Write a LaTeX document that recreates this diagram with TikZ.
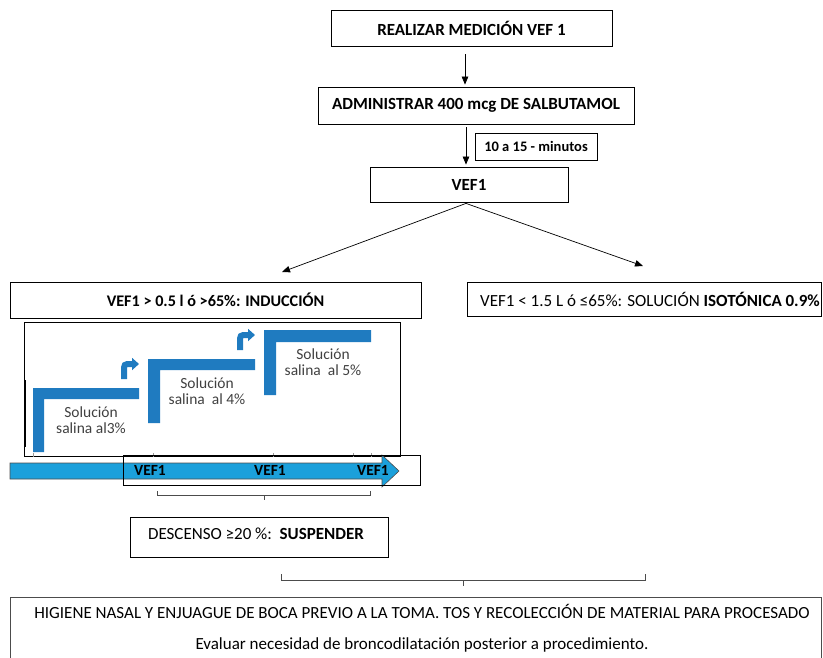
\documentclass[tikz,border=0pt]{standalone}
\usepackage{fontspec}
\setmainfont{Carlito}
\usetikzlibrary{arrows.meta,calc}
\definecolor{stepblue}{HTML}{1F7BC0}
\definecolor{arrowblue}{HTML}{1BA0DB}
\definecolor{labgray}{HTML}{404040}
\begin{document}
\begin{tikzpicture}[x=1pt,y=-1pt,
  box/.style={draw, line width=0.8pt, inner sep=0pt, font=\fontsize{17}{19}\selectfont},
  bbox/.style={box, font=\fontsize{17}{19}\selectfont\bfseries},
  arr/.style={line width=0.7pt, -{Triangle[length=8pt,width=6.5pt]}},
  steplab/.style={text=labgray, align=center, font=\fontsize{15.5}{16.5}\selectfont, inner sep=0pt},
  veflab/.style={font=\fontsize{15.5}{17}\selectfont\bfseries, inner sep=0pt},
  brace/.style={draw=black!70, line width=0.6pt},
  tick/.style={draw=black!40, line width=0.5pt},
  plain/.style={font=\fontsize{17}{19}\selectfont, inner sep=0pt}]
\useasboundingbox (0,0) rectangle (823,657);

% main boxes
\node[bbox, minimum width=281pt, minimum height=36pt] (b1) at (471.5,28) {REALIZAR MEDICIÓN VEF 1};
\node[bbox, minimum width=316pt, minimum height=37pt] (b2) at (476,105.5) {ADMINISTRAR 400 mcg DE SALBUTAMOL};
\node[box, minimum width=122pt, minimum height=27pt, font=\fontsize{14.5}{16}\selectfont\bfseries] (lab) at (536,146.5) {10 a 15 - minutos};
\node[bbox, minimum width=198pt, minimum height=35pt] (b3) at (469,184.5) {VEF1};
\node[box, minimum width=411pt, minimum height=36pt, font=\fontsize{16.2}{18}\selectfont\bfseries] (left) at (215.5,300) {VEF1 > 0.5 l ó >65\%: INDUCCIÓN};
\node[box, minimum width=354pt, minimum height=34pt] (right) at (644.5,299) {};
\node[plain] (rtext) at (650,299) {VEF1 < 1.5 L ó ≤65\%: SOLUCIÓN \textbf{ISOTÓNICA 0.9\%}};
\node[box, minimum width=258pt, minimum height=40pt] (desc) at (259,537) {};
\node[plain] (dtext) at (256,534) {DESCENSO ≥20 \%:\ \ \textbf{SUSPENDER}};

% connectors
\draw[arr] ([xshift=-6.5pt,yshift=-8pt]b1.south) -- ([xshift=-11pt,yshift=2pt]b2.north);
\draw[arr] ([xshift=-10pt,yshift=-3pt]b2.south) -- ([xshift=-3pt,yshift=2pt]b3.north);
\coordinate (eL) at (282,272);
\coordinate (eR) at (643,266);
\draw[arr] ([xshift=-3pt,yshift=-1pt]b3.south) -- (eL);
\draw[arr] ([xshift=-3pt,yshift=-1pt]b3.south) -- (eR);

% picture of saline steps
\draw[line width=0.6pt] (24,322) rectangle (400,456);
\draw[line width=1.2pt] (25,380) -- (25,447);
\fill[stepblue] (33,452) -- (33,388) -- (139,388) -- (139,399) -- (44,399) -- (44,452) -- cycle;
\fill[stepblue] (148,423) -- (148,359) -- (255,359) -- (255,370) -- (160,370) -- (160,423) -- cycle;
\fill[stepblue] (264,395) -- (264,330) -- (371,330) -- (371,342) -- (276,342) -- (276,395) -- cycle;
\draw[stepblue, line width=6pt, -{Triangle[length=7pt,width=12pt]}] (124,379) -- (124,372) .. controls (124,364) .. (131,364) -- (139,364);
\draw[stepblue, line width=6pt, -{Triangle[length=7pt,width=12pt]}] (240,350) -- (240,343) .. controls (240,335) .. (247,335) -- (255,335);
\node[steplab] (s1) at (91,420) {Solución\\salina al3\%};
\node[steplab] (s2) at (207,391) {Solución\\salina\ \ al 4\%};
\node[steplab] (s3) at (323,362) {Solución\\salina\ \ al 5\%};
\foreach \tx in {33,153,273,353,371} \draw[tick] (\tx,453) -- (\tx,457);

% timeline arrow
\filldraw[fill=arrowblue, draw=black!70, line width=0.6pt] (10,463) -- (382,463) -- (382,455) -- (399,471) -- (382,487) -- (382,479) -- (10,479) -- cycle;
\draw[line width=0.6pt] (123,455) rectangle (420,485);
\node[veflab] (v1) at (150,470) {VEF1};
\node[veflab] (v2) at (270,470) {VEF1};
\node[veflab] (v3) at (373,470) {VEF1};

% braces
\draw[brace] (157,491) -- (157,495) -- (370,495) -- (370,491);
\draw[brace] (264,495) -- (264,500);
\draw[brace] (281,574) -- (281,580) -- (645,580) -- (645,574);
\draw[brace] (463,580) -- (463,586);

% bottom box
\draw[draw=black!70, line width=0.8pt] (10,670) -- (10,597) -- (821,597) -- (821,670);
\node[plain] (t1) at (422,611) {HIGIENE NASAL Y ENJUAGUE DE BOCA PREVIO A LA TOMA. TOS Y RECOLECCIÓN DE MATERIAL PARA PROCESADO};
\node[plain] (t2) at (422,645) {Evaluar necesidad de broncodilatación posterior a procedimiento.};
\end{tikzpicture}
\end{document}
